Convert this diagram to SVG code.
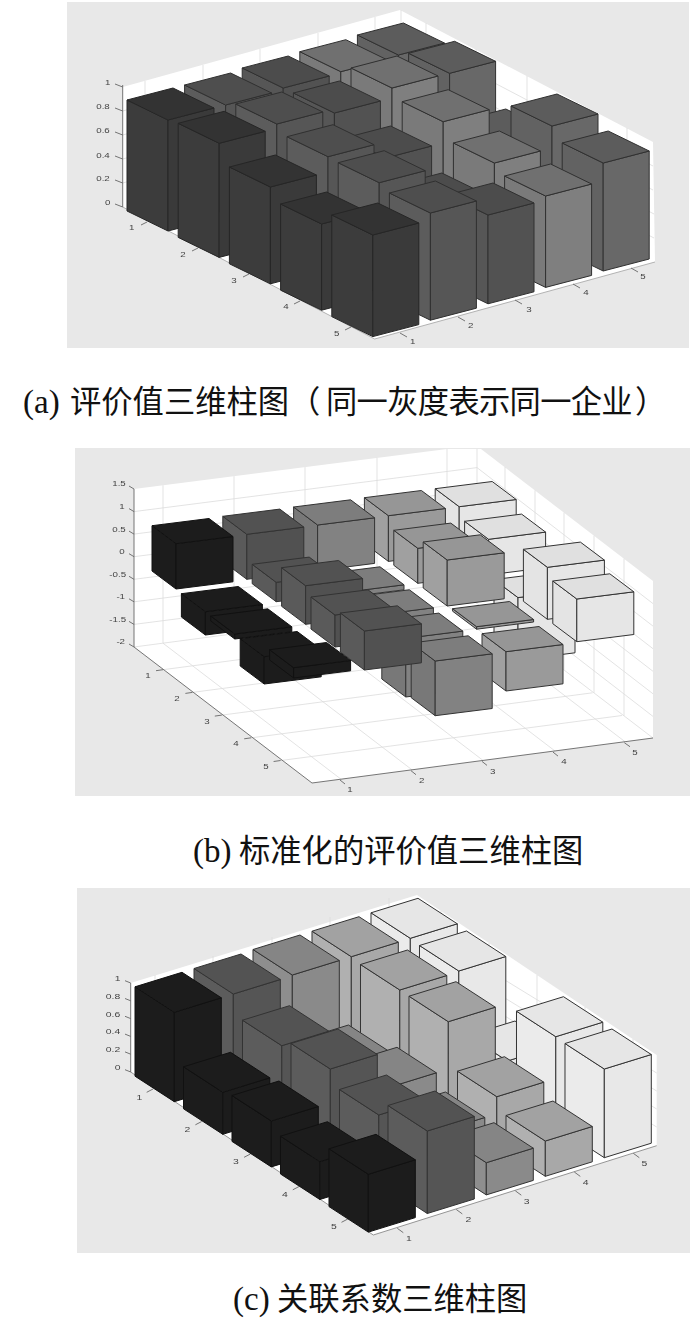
<svg xmlns="http://www.w3.org/2000/svg" width="700" height="1319" viewBox="0 0 700 1319">
<style>
.bg{fill:#e8e8e8}
.wall{fill:#fff}
.grid{fill:none;stroke:#dcdcdc;stroke-width:.8}
.ax{fill:none;stroke:#666;stroke-width:.9}
.lab{font-family:"Liberation Sans",Arial,sans-serif;font-size:6.5px;text-anchor:middle;fill:#444}
.cap{font-family:"Liberation Serif","Noto Sans CJK SC",serif;font-size:33px;fill:#111}
.zh{font-family:"Noto Sans CJK SC","Liberation Serif",sans-serif;font-size:31.3px}
.bar path{stroke-width:1;stroke-linejoin:round}
.pa .bar path{stroke:#303030}
.pb .bar path,.pc .bar path{stroke:#333}
.a1 path{stroke:#262626!important}
.a1 .t{fill:#333}.a1 .l{fill:#3c3c3c}.a1 .r{fill:#3a3a3a}
.a2 .t{fill:#4e4e4e}.a2 .l{fill:#5c5c5c}.a2 .r{fill:#565656}
.a3 .t{fill:#4c4c4c}.a3 .l{fill:#565656}.a3 .r{fill:#525252}
.a4 .t{fill:#707070}.a4 .l{fill:#7a7a7a}.a4 .r{fill:#7f7f7f}
.a5 .t{fill:#5c5c5c}.a5 .l{fill:#626262}.a5 .r{fill:#686868}
.b1 path{stroke:#111!important}
.b1 .t,.b1 .l,.b1 .r{fill:#1c1c1c}
.b2 .t{fill:#525252}.b2 .l{fill:#5a5a5a}.b2 .r{fill:#515151}
.b3 .t{fill:#7d7d7d}.b3 .l{fill:#787878}.b3 .r{fill:#828282}
.b4 .t{fill:#969696}.b4 .l{fill:#a0a0a0}.b4 .r{fill:#9a9a9a}
.b5 .t{fill:#e0e0e0}.b5 .l{fill:#e4e4e4}.b5 .r{fill:#e6e6e6}
.c1 path{stroke:#111!important}
.c1 .t,.c1 .l,.c1 .r{fill:#1c1c1c}
.c2 .t{fill:#535353}.c2 .l{fill:#5c5c5c}.c2 .r{fill:#555}
.c3 .t{fill:#858585}.c3 .l{fill:#8e8e8e}.c3 .r{fill:#8a8a8a}
.c4 .t{fill:#a2a2a2}.c4 .l{fill:#b0b0b0}.c4 .r{fill:#a8a8a8}
.c5 .t{fill:#e6e6e6}.c5 .l{fill:#ebebeb}.c5 .r{fill:#e8e8e8}
</style>
<defs>
<filter id="softA" x="-2%" y="-2%" width="104%" height="104%" color-interpolation-filters="sRGB"><feGaussianBlur stdDeviation=".6"/></filter>
<filter id="softB" x="-2%" y="-2%" width="104%" height="104%" color-interpolation-filters="sRGB"><feGaussianBlur stdDeviation=".3"/></filter>
</defs>

<g id="panel-a" class="pa" filter="url(#softA)">
<rect class="bg" x="67" y="2" width="622" height="346"/>
<path class="wall" d="M122.7 87L400 10 653 142 655 262 374.7 339 122.7 207z"/>
<path class="grid" d="M145 81V201M203 65V185M260 49V169M318 33V153M375 17V137M401 10V130M426 23V143M476 49V169M527 76V196M577 102V222M627 128V248M401 34L653 166M401 58L653 190M401 82L654 214M401 106L654 238M122.7 111L401 34M122.7 135L401 58M122.7 159L401 82M122.7 183L401 106"/>
<path class="ax" style="stroke:#aaa" d="M122.7 207L374.7 339 655 262"/>
<path class="ax" d="M122.7 85V207M122.7 87L115 84M122.7 111L115 108M122.7 135L115 132M122.7 159L115 156M122.7 183L115 180M122.7 207L115 204M147 222L141 225M198 248L192 251M249 274L243 277M300 301L294 304M351 327L345 330M400 333L407 337M458 317L465 321M515 300L522 304M573 284L580 288M631 268L638 272"/>
<g id="labels-a">
<text class="lab" transform="translate(107.7 85.2) scale(1.5 1)">1</text>
<text class="lab" transform="translate(103 109.2) scale(1.5 1)">0.8</text>
<text class="lab" transform="translate(103 133.2) scale(1.5 1)">0.6</text>
<text class="lab" transform="translate(103 158.2) scale(1.5 1)">0.4</text>
<text class="lab" transform="translate(103 181.2) scale(1.5 1)">0.2</text>
<text class="lab" transform="translate(107.7 205.2) scale(1.5 1)">0</text>
<text class="lab" transform="translate(131.7 230.2) scale(1.5 1)">1</text>
<text class="lab" transform="translate(183 257.2) scale(1.5 1)">2</text>
<text class="lab" transform="translate(234 283.2) scale(1.5 1)">3</text>
<text class="lab" transform="translate(286 309.2) scale(1.5 1)">4</text>
<text class="lab" transform="translate(336.7 336.2) scale(1.5 1)">5</text>
<text class="lab" transform="translate(412.7 344.2) scale(1.5 1)">1</text>
<text class="lab" transform="translate(470.7 328.2) scale(1.5 1)">2</text>
<text class="lab" transform="translate(529 312.2) scale(1.5 1)">3</text>
<text class="lab" transform="translate(586 295.2) scale(1.5 1)">4</text>
<text class="lab" transform="translate(643 279.2) scale(1.5 1)">5</text>
</g>
<g id="bars-a">
<g id="a-1-5" class="bar a5" transform="translate(398.4 55)"><path class="l" d="M0 0l-41-20v110.4l41 20z"/><path class="r" d="M0 0l46-12v110.4l-46 12z"/><path class="t" d="M0 0l-41-20 46-12 41 20z"/></g>
<g id="a-1-4" class="bar a4" transform="translate(340.8 71.7)"><path class="l" d="M0 0l-41-20v110.1l41 20z"/><path class="r" d="M0 0l46-12v110.1l-46 12z"/><path class="t" d="M0 0l-41-20 46-12 41 20z"/></g>
<g id="a-1-3" class="bar a3" transform="translate(283.2 88)"><path class="l" d="M0 0l-41-20v110.2l41 20z"/><path class="r" d="M0 0l46-12v110.2l-46 12z"/><path class="t" d="M0 0l-41-20 46-12 41 20z"/></g>
<g id="a-1-2" class="bar a2" transform="translate(225.6 105)"><path class="l" d="M0 0l-41-20v109.6l41 20z"/><path class="r" d="M0 0l46-12v109.6l-46 12z"/><path class="t" d="M0 0l-41-20 46-12 41 20z"/></g>
<g id="a-1-1" class="bar a1" transform="translate(168 120)"><path class="l" d="M0 0l-41-20v111l41 20z"/><path class="r" d="M0 0l46-12v111l-46 12z"/><path class="t" d="M0 0l-41-20 46-12 41 20z"/></g>
<g id="a-2-5" class="bar a5" transform="translate(449.6 73.3)"><path class="l" d="M0 0l-41-20v118.5l41 20z"/><path class="r" d="M0 0l46-12v118.5l-46 12z"/><path class="t" d="M0 0l-41-20 46-12 41 20z"/></g>
<g id="a-2-4" class="bar a4" transform="translate(392 88)"><path class="l" d="M0 0l-41-20v120.2l41 20z"/><path class="r" d="M0 0l46-12v120.2l-46 12z"/><path class="t" d="M0 0l-41-20 46-12 41 20z"/></g>
<g id="a-2-3" class="bar a3" transform="translate(334.4 113)"><path class="l" d="M0 0l-41-20v111.6l41 20z"/><path class="r" d="M0 0l46-12v111.6l-46 12z"/><path class="t" d="M0 0l-41-20 46-12 41 20z"/></g>
<g id="a-2-2" class="bar a2" transform="translate(276.8 124)"><path class="l" d="M0 0l-41-20v117l41 20z"/><path class="r" d="M0 0l46-12v117l-46 12z"/><path class="t" d="M0 0l-41-20 46-12 41 20z"/></g>
<g id="a-2-1" class="bar a1" transform="translate(219.2 143.3)"><path class="l" d="M0 0l-41-20v114.1l41 20z"/><path class="r" d="M0 0l46-12v114.1l-46 12z"/><path class="t" d="M0 0l-41-20 46-12 41 20z"/></g>
<g id="a-3-5" class="bar a5" transform="translate(500.8 141)"><path class="l" d="M0 0l-41-20v77.2l41 20z"/><path class="r" d="M0 0l46-12v77.2l-46 12z"/><path class="t" d="M0 0l-41-20 46-12 41 20z"/></g>
<g id="a-3-4" class="bar a4" transform="translate(443.2 121.7)"><path class="l" d="M0 0l-41-20v112.9l41 20z"/><path class="r" d="M0 0l46-12v112.9l-46 12z"/><path class="t" d="M0 0l-41-20 46-12 41 20z"/></g>
<g id="a-3-3" class="bar a3" transform="translate(385.6 158)"><path class="l" d="M0 0l-41-20v93l41 20z"/><path class="r" d="M0 0l46-12v93l-46 12z"/><path class="t" d="M0 0l-41-20 46-12 41 20z"/></g>
<g id="a-3-2" class="bar a2" transform="translate(328 156.7)"><path class="l" d="M0 0l-41-20v110.7l41 20z"/><path class="r" d="M0 0l46-12v110.7l-46 12z"/><path class="t" d="M0 0l-41-20 46-12 41 20z"/></g>
<g id="a-3-1" class="bar a1" transform="translate(270.4 187)"><path class="l" d="M0 0l-41-20v96.8l41 20z"/><path class="r" d="M0 0l46-12v96.8l-46 12z"/><path class="t" d="M0 0l-41-20 46-12 41 20z"/></g>
<g id="a-4-5" class="bar a5" transform="translate(552 126)"><path class="l" d="M0 0l-41-20v118.6l41 20z"/><path class="r" d="M0 0l46-12v118.6l-46 12z"/><path class="t" d="M0 0l-41-20 46-12 41 20z"/></g>
<g id="a-4-4" class="bar a4" transform="translate(494.4 163)"><path class="l" d="M0 0l-41-20v98l41 20z"/><path class="r" d="M0 0l46-12v98l-46 12z"/><path class="t" d="M0 0l-41-20 46-12 41 20z"/></g>
<g id="a-4-3" class="bar a3" transform="translate(436.8 205)"><path class="l" d="M0 0l-41-20v72.4l41 20z"/><path class="r" d="M0 0l46-12v72.4l-46 12z"/><path class="t" d="M0 0l-41-20 46-12 41 20z"/></g>
<g id="a-4-2" class="bar a2" transform="translate(379.2 182.7)"><path class="l" d="M0 0l-41-20v111.1l41 20z"/><path class="r" d="M0 0l46-12v111.1l-46 12z"/><path class="t" d="M0 0l-41-20 46-12 41 20z"/></g>
<g id="a-4-1" class="bar a1" transform="translate(321.6 224)"><path class="l" d="M0 0l-41-20v86.2l41 20z"/><path class="r" d="M0 0l46-12v86.2l-46 12z"/><path class="t" d="M0 0l-41-20 46-12 41 20z"/></g>
<g id="a-5-5" class="bar a5" transform="translate(603.2 163)"><path class="l" d="M0 0l-41-20v108l41 20z"/><path class="r" d="M0 0l46-12v108l-46 12z"/><path class="t" d="M0 0l-41-20 46-12 41 20z"/></g>
<g id="a-5-4" class="bar a4" transform="translate(545.6 196)"><path class="l" d="M0 0l-41-20v91.4l41 20z"/><path class="r" d="M0 0l46-12v91.4l-46 12z"/><path class="t" d="M0 0l-41-20 46-12 41 20z"/></g>
<g id="a-5-3" class="bar a3" transform="translate(488 215)"><path class="l" d="M0 0l-41-20v88.8l41 20z"/><path class="r" d="M0 0l46-12v88.8l-46 12z"/><path class="t" d="M0 0l-41-20 46-12 41 20z"/></g>
<g id="a-5-2" class="bar a2" transform="translate(430.4 213)"><path class="l" d="M0 0l-41-20v107.2l41 20z"/><path class="r" d="M0 0l46-12v107.2l-46 12z"/><path class="t" d="M0 0l-41-20 46-12 41 20z"/></g>
<g id="a-5-1" class="bar a1" transform="translate(372.8 235)"><path class="l" d="M0 0l-41-20v101.6l41 20z"/><path class="r" d="M0 0l46-12v101.6l-46 12z"/><path class="t" d="M0 0l-41-20 46-12 41 20z"/></g>
</g>
</g>

<text id="caption-a" class="cap" y="413"><tspan x="23">(a)</tspan><tspan class="zh" x="70">评价值三维柱图</tspan><tspan class="zh" x="289">（</tspan><tspan class="zh" x="326" letter-spacing="-.7">同一灰度表示同一企业</tspan><tspan class="zh" x="635">）</tspan></text>

<g id="panel-b" class="pb" filter="url(#softB)">
<rect class="bg" x="75" y="448" width="615" height="348"/>
<path class="wall" d="M134 489L447 449H481L653 581V738L312 783 134 647z"/>
<path class="grid" d="M163 485.3V643M234 476.2V634M305 467.1V625M377 457.9V615.6M447 449V606M477 449V602M505 467V624.7M535 490.4V647.7M564 512.7V669.7M594 535.7V692.7M624 558.7V715.7M134 511.6L477 467.6 653 603.6M134 534.1L477 490.1 653 626.1M134 556.7L477 512.7 653 648.7M134 579.3L477 535.3 653 671.3M134 601.8L477 557.8 653 693.8M134 624.4L477 580.4 653 716.4M134 647L475 602 653 738M163 669.7L504 624.7M192.5 692.4L533.5 647.4M222 715.1L563 670.1M251.5 737.8L592.5 692.8M281 760.5L622 715.5M163 643.2L341 779.2M234 633.8L412 769.8M305 624.4L483 760.4M377 615L555 751M447 605.7L625 741.7"/>
<path class="ax" d="M134 489V647L312 783 653 738M134 489L129 486M134 511.6L129 508.6M134 534.1L129 531.1M134 556.7L129 553.7M134 579.3L129 576.3M134 601.8L129 598.8M134 624.4L129 621.4M134 647L129 644M163 669.7L156 670.7M192.4 692.4L185.4 693.4M221.8 715.1L214.8 716.1M251.2 737.8L244.2 738.8M280.6 760.5L273.6 761.5M340 780L345 784M411 770.7L416 774.7M482 761.4L487 765.4M553 752.1L558 756.1M624.3 742.7L630 746.7"/>
<g id="labels-b">
<text class="lab" transform="translate(119 486.2) scale(1.5 1)">1.5</text>
<text class="lab" transform="translate(122 509.2) scale(1.5 1)">1</text>
<text class="lab" transform="translate(119 532.2) scale(1.5 1)">0.5</text>
<text class="lab" transform="translate(122 554.2) scale(1.5 1)">0</text>
<text class="lab" transform="translate(117.7 577.2) scale(1.5 1)">-0.5</text>
<text class="lab" transform="translate(120.7 599.2) scale(1.5 1)">-1</text>
<text class="lab" transform="translate(117.7 622.2) scale(1.5 1)">-1.5</text>
<text class="lab" transform="translate(120.7 644.2) scale(1.5 1)">-2</text>
<text class="lab" transform="translate(148 678.2) scale(1.5 1)">1</text>
<text class="lab" transform="translate(177 701.2) scale(1.5 1)">2</text>
<text class="lab" transform="translate(207 724.2) scale(1.5 1)">3</text>
<text class="lab" transform="translate(236 746.2) scale(1.5 1)">4</text>
<text class="lab" transform="translate(266 769.2) scale(1.5 1)">5</text>
<text class="lab" transform="translate(350 792.2) scale(1.5 1)">1</text>
<text class="lab" transform="translate(421.7 783.2) scale(1.5 1)">2</text>
<text class="lab" transform="translate(492.7 773.9) scale(1.5 1)">3</text>
<text class="lab" transform="translate(564 764.2) scale(1.5 1)">4</text>
<text class="lab" transform="translate(635 754.9) scale(1.5 1)">5</text>
</g>
<g id="bars-b">
<g id="b-1-5" class="bar b5" transform="translate(459.2 506.7)"><path class="l" d="M0 0l-24-18v45.5l24 18z"/><path class="r" d="M0 0l57-7.2v45.5l-57 7.2z"/><path class="t" d="M0 0l-24-18 57-7.2 24 18z"/></g>
<g id="b-1-4" class="bar b4" transform="translate(388.4 515.7)"><path class="l" d="M0 0l-24-18v45.7l24 18z"/><path class="r" d="M0 0l57-7.2v45.7l-57 7.2z"/><path class="t" d="M0 0l-24-18 57-7.2 24 18z"/></g>
<g id="b-1-3" class="bar b3" transform="translate(317.6 525)"><path class="l" d="M0 0l-24-18v45.6l24 18z"/><path class="r" d="M0 0l57-7.2v45.6l-57 7.2z"/><path class="t" d="M0 0l-24-18 57-7.2 24 18z"/></g>
<g id="b-1-2" class="bar b2" transform="translate(246.8 534.3)"><path class="l" d="M0 0l-24-18v45l24 18z"/><path class="r" d="M0 0l57-7.2v45l-57 7.2z"/><path class="t" d="M0 0l-24-18 57-7.2 24 18z"/></g>
<g id="b-1-1" class="bar b1" transform="translate(176 543.7)"><path class="l" d="M0 0l-24-18v45.3l24 18z"/><path class="r" d="M0 0l57-7.2v45.3l-57 7.2z"/><path class="t" d="M0 0l-24-18 57-7.2 24 18z"/></g>
<g id="b-2-5" class="bar b5" transform="translate(488.6 539.3)"><path class="l" d="M0 0l-24-18v35.6l24 18z"/><path class="r" d="M0 0l57-7.2v35.6l-57 7.2z"/><path class="t" d="M0 0l-24-18 57-7.2 24 18z"/></g>
<g id="b-2-4" class="bar b4" transform="translate(417.8 548.3)"><path class="l" d="M0 0l-24-18v35l24 18z"/><path class="r" d="M0 0l57-7.2v35l-57 7.2z"/><path class="t" d="M0 0l-24-18 57-7.2 24 18z"/></g>
<g id="b-2-3" class="bar b3" transform="translate(347 592)"><path class="l" d="M0 0l-24-18v5l24 18z"/><path class="r" d="M0 0l57-7.2v5l-57 7.2z"/><path class="t" d="M0 0l-24-18 57-7.2 24 18z"/></g>
<g id="b-2-2" class="bar b2" transform="translate(276.2 582.3)"><path class="l" d="M0 0l-24-18v19.4l24 18z"/><path class="r" d="M0 0l57-7.2v19.4l-57 7.2z"/><path class="t" d="M0 0l-24-18 57-7.2 24 18z"/></g>
<g id="b-2-1" class="bar b1" transform="translate(205.4 611.7)"><path class="l" d="M0 0l-24-18v23.3l24 18z"/><path class="r" d="M0 0l57-7.2v23.3l-57 7.2z"/><path class="t" d="M0 0l-24-18 57-7.2 24 18z"/></g>
<g id="b-3-5" class="bar b5" transform="translate(518 597.6)"><path class="l" d="M0 0l-24-18v62.4l24 18z"/><path class="r" d="M0 0l57-7.2v62.4l-57 7.2z"/><path class="t" d="M0 0l-24-18 57-7.2 24 18z"/></g>
<g id="b-3-4" class="bar b4" transform="translate(447.2 560)"><path class="l" d="M0 0l-24-18v46l24 18z"/><path class="r" d="M0 0l57-7.2v46l-57 7.2z"/><path class="t" d="M0 0l-24-18 57-7.2 24 18z"/></g>
<g id="b-3-3" class="bar b3" transform="translate(376.4 615)"><path class="l" d="M0 0l-24-18v8l24 18z"/><path class="r" d="M0 0l57-7.2v8l-57 7.2z"/><path class="t" d="M0 0l-24-18 57-7.2 24 18z"/></g>
<g id="b-3-2" class="bar b2" transform="translate(305.6 585.7)"><path class="l" d="M0 0l-24-18v38.6l24 18z"/><path class="r" d="M0 0l57-7.2v38.6l-57 7.2z"/><path class="t" d="M0 0l-24-18 57-7.2 24 18z"/></g>
<g id="b-3-1" class="bar b1" transform="translate(234.8 634)"><path class="l" d="M0 0l-24-18v5l24 18z"/><path class="r" d="M0 0l57-7.2v5l-57 7.2z"/><path class="t" d="M0 0l-24-18 57-7.2 24 18z"/></g>
<g id="b-4-5" class="bar b5" transform="translate(547.4 567.3)"><path class="l" d="M0 0l-24-18v52l24 18z"/><path class="r" d="M0 0l57-7.2v52l-57 7.2z"/><path class="t" d="M0 0l-24-18 57-7.2 24 18z"/></g>
<g id="b-4-4" class="bar b4" transform="translate(476.6 626.7)"><path class="l" d="M0 0l-24-18v2.5l24 18z"/><path class="r" d="M0 0l57-7.2v2.5l-57 7.2z"/><path class="t" d="M0 0l-24-18 57-7.2 24 18z"/></g>
<g id="b-4-3" class="bar b3" transform="translate(405.8 638.3)"><path class="l" d="M0 0l-24-18v58.7l24 18z"/><path class="r" d="M0 0l57-7.2v58.7l-57 7.2z"/><path class="t" d="M0 0l-24-18 57-7.2 24 18z"/></g>
<g id="b-4-2" class="bar b2" transform="translate(335 615)"><path class="l" d="M0 0l-24-18v32l24 18z"/><path class="r" d="M0 0l57-7.2v32l-57 7.2z"/><path class="t" d="M0 0l-24-18 57-7.2 24 18z"/></g>
<g id="b-4-1" class="bar b1" transform="translate(264.2 656.7)"><path class="l" d="M0 0l-24-18v27.3l24 18z"/><path class="r" d="M0 0l57-7.2v27.3l-57 7.2z"/><path class="t" d="M0 0l-24-18 57-7.2 24 18z"/></g>
<g id="b-5-5" class="bar b5" transform="translate(576.8 599)"><path class="l" d="M0 0l-24-18v42.7l24 18z"/><path class="r" d="M0 0l57-7.2v42.7l-57 7.2z"/><path class="t" d="M0 0l-24-18 57-7.2 24 18z"/></g>
<g id="b-5-4" class="bar b4" transform="translate(506 651.7)"><path class="l" d="M0 0l-24-18v39.3l24 18z"/><path class="r" d="M0 0l57-7.2v39.3l-57 7.2z"/><path class="t" d="M0 0l-24-18 57-7.2 24 18z"/></g>
<g id="b-5-3" class="bar b3" transform="translate(435.2 661)"><path class="l" d="M0 0l-24-18v54.7l24 18z"/><path class="r" d="M0 0l57-7.2v54.7l-57 7.2z"/><path class="t" d="M0 0l-24-18 57-7.2 24 18z"/></g>
<g id="b-5-2" class="bar b2" transform="translate(364.4 631)"><path class="l" d="M0 0l-24-18v39l24 18z"/><path class="r" d="M0 0l57-7.2v39l-57 7.2z"/><path class="t" d="M0 0l-24-18 57-7.2 24 18z"/></g>
<g id="b-5-1" class="bar b1" transform="translate(293.6 667.7)"><path class="l" d="M0 0l-24-18v10.3l24 18z"/><path class="r" d="M0 0l57-7.2v10.3l-57 7.2z"/><path class="t" d="M0 0l-24-18 57-7.2 24 18z"/></g>
</g>
</g>

<text id="caption-b" class="cap" y="862"><tspan x="193">(b)</tspan><tspan class="zh" x="239">标准化的评价值三维柱图</tspan></text>

<g id="panel-c" class="pc" filter="url(#softB)">
<rect class="bg" x="77" y="888" width="613" height="365"/>
<path class="wall" d="M130.7 983L417 895 656.7 1055V1145.7L373.3 1235 130.7 1072z"/>
<path class="grid" d="M155 975V1064M213 956V1045M272 937V1026M330 917V1006M389 898V987M441 911V1001M489 943V1033M537 975V1065M585 1007V1097M633 1039V1129M415 925L656.7 1073M415 943L656.7 1091M415 961L656.7 1109M415 979L656.7 1127"/>
<path class="ax" style="stroke:#8a8a8a" d="M130.7 1072L373.3 1235 656.7 1145.7"/>
<path class="ax" d="M130.7 983V1072M130.7 983L125 980.7M130.7 1000.8L125 998.5M130.7 1018.6L125 1016.3M130.7 1036.4L125 1034.1M130.7 1054.2L125 1051.9M130.7 1072L125 1069.7M153 1089L146.7 1092.3M201.7 1121.5L195.4 1124.8M250.4 1154L244.1 1157.3M299.1 1186.5L292.8 1189.8M347.8 1219L341.5 1222.3M397.3 1228.3L403.3 1232.7M456.3 1209.5L462.3 1213.9M515.3 1190.8L521.3 1195.2M574.3 1172L580.3 1176.4M633.3 1153.3L639.3 1157.7"/>
<g id="labels-c">
<text class="lab" transform="translate(117.7 981.2) scale(1.6 1.1)">1</text>
<text class="lab" transform="translate(113 999.2) scale(1.6 1.1)">0.8</text>
<text class="lab" transform="translate(113 1016.5) scale(1.6 1.1)">0.6</text>
<text class="lab" transform="translate(113 1034.2) scale(1.6 1.1)">0.4</text>
<text class="lab" transform="translate(113 1052.2) scale(1.6 1.1)">0.2</text>
<text class="lab" transform="translate(117.7 1069.9) scale(1.6 1.1)">0</text>
<text class="lab" transform="translate(139.3 1099.9) scale(1.6 1.1)">1</text>
<text class="lab" transform="translate(187.3 1132.2) scale(1.6 1.1)">2</text>
<text class="lab" transform="translate(236 1164.2) scale(1.6 1.1)">3</text>
<text class="lab" transform="translate(285 1197.2) scale(1.6 1.1)">4</text>
<text class="lab" transform="translate(334 1229.2) scale(1.6 1.1)">5</text>
<text class="lab" transform="translate(409 1241.2) scale(1.6 1.1)">1</text>
<text class="lab" transform="translate(468.3 1222.2) scale(1.6 1.1)">2</text>
<text class="lab" transform="translate(526.7 1203.9) scale(1.6 1.1)">3</text>
<text class="lab" transform="translate(585.7 1184.9) scale(1.6 1.1)">4</text>
<text class="lab" transform="translate(644.3 1166.2) scale(1.6 1.1)">5</text>
</g>
<g id="bars-c">
<g id="c-1-5" class="bar c5" transform="translate(410.3 938.3)"><path class="l" d="M0 0l-39.3-25.5v89l39.3 25.5z"/><path class="r" d="M0 0l47-14.5v89l-47 14.5z"/><path class="t" d="M0 0l-39.3-25.5 47-14.5 39.3 25.5z"/></g>
<g id="c-1-4" class="bar c4" transform="translate(351.3 956.7)"><path class="l" d="M0 0l-39.3-25.5v89.2l39.3 25.5z"/><path class="r" d="M0 0l47-14.5v89.2l-47 14.5z"/><path class="t" d="M0 0l-39.3-25.5 47-14.5 39.3 25.5z"/></g>
<g id="c-1-3" class="bar c3" transform="translate(292.3 975)"><path class="l" d="M0 0l-39.3-25.5v89.5l39.3 25.5z"/><path class="r" d="M0 0l47-14.5v89.5l-47 14.5z"/><path class="t" d="M0 0l-39.3-25.5 47-14.5 39.3 25.5z"/></g>
<g id="c-1-2" class="bar c2" transform="translate(233.3 994)"><path class="l" d="M0 0l-39.3-25.5v89.1l39.3 25.5z"/><path class="r" d="M0 0l47-14.5v89.1l-47 14.5z"/><path class="t" d="M0 0l-39.3-25.5 47-14.5 39.3 25.5z"/></g>
<g id="c-1-1" class="bar c1" transform="translate(174.3 1012.3)"><path class="l" d="M0 0l-39.3-25.5v89.4l39.3 25.5z"/><path class="r" d="M0 0l47-14.5v89.4l-47 14.5z"/><path class="t" d="M0 0l-39.3-25.5 47-14.5 39.3 25.5z"/></g>
<g id="c-2-5" class="bar c5" transform="translate(458.8 971)"><path class="l" d="M0 0l-39.3-25.5v88.9l39.3 25.5z"/><path class="r" d="M0 0l47-14.5v88.9l-47 14.5z"/><path class="t" d="M0 0l-39.3-25.5 47-14.5 39.3 25.5z"/></g>
<g id="c-2-4" class="bar c4" transform="translate(399.8 990)"><path class="l" d="M0 0l-39.3-25.5v88.5l39.3 25.5z"/><path class="r" d="M0 0l47-14.5v88.5l-47 14.5z"/><path class="t" d="M0 0l-39.3-25.5 47-14.5 39.3 25.5z"/></g>
<g id="c-2-3" class="bar c3" transform="translate(340.8 1065)"><path class="l" d="M0 0l-39.3-25.5v32.1l39.3 25.5z"/><path class="r" d="M0 0l47-14.5v32.1l-47 14.5z"/><path class="t" d="M0 0l-39.3-25.5 47-14.5 39.3 25.5z"/></g>
<g id="c-2-2" class="bar c2" transform="translate(281.8 1045.7)"><path class="l" d="M0 0l-39.3-25.5v70l39.3 25.5z"/><path class="r" d="M0 0l47-14.5v70l-47 14.5z"/><path class="t" d="M0 0l-39.3-25.5 47-14.5 39.3 25.5z"/></g>
<g id="c-2-1" class="bar c1" transform="translate(222.8 1092.3)"><path class="l" d="M0 0l-39.3-25.5v42l39.3 25.5z"/><path class="r" d="M0 0l47-14.5v42l-47 14.5z"/><path class="t" d="M0 0l-39.3-25.5 47-14.5 39.3 25.5z"/></g>
<g id="c-3-5" class="bar c5" transform="translate(507.3 1061)"><path class="l" d="M0 0l-39.3-25.5v31.5l39.3 25.5z"/><path class="r" d="M0 0l47-14.5v31.5l-47 14.5z"/><path class="t" d="M0 0l-39.3-25.5 47-14.5 39.3 25.5z"/></g>
<g id="c-3-4" class="bar c4" transform="translate(448.3 1021.7)"><path class="l" d="M0 0l-39.3-25.5v89.4l39.3 25.5z"/><path class="r" d="M0 0l47-14.5v89.4l-47 14.5z"/><path class="t" d="M0 0l-39.3-25.5 47-14.5 39.3 25.5z"/></g>
<g id="c-3-3" class="bar c3" transform="translate(389.3 1087.3)"><path class="l" d="M0 0l-39.3-25.5v42.4l39.3 25.5z"/><path class="r" d="M0 0l47-14.5v42.4l-47 14.5z"/><path class="t" d="M0 0l-39.3-25.5 47-14.5 39.3 25.5z"/></g>
<g id="c-3-2" class="bar c2" transform="translate(330.3 1069)"><path class="l" d="M0 0l-39.3-25.5v79.3l39.3 25.5z"/><path class="r" d="M0 0l47-14.5v79.3l-47 14.5z"/><path class="t" d="M0 0l-39.3-25.5 47-14.5 39.3 25.5z"/></g>
<g id="c-3-1" class="bar c1" transform="translate(271.3 1121)"><path class="l" d="M0 0l-39.3-25.5v45.9l39.3 25.5z"/><path class="r" d="M0 0l47-14.5v45.9l-47 14.5z"/><path class="t" d="M0 0l-39.3-25.5 47-14.5 39.3 25.5z"/></g>
<g id="c-4-5" class="bar c5" transform="translate(555.8 1036.7)"><path class="l" d="M0 0l-39.3-25.5v88.4l39.3 25.5z"/><path class="r" d="M0 0l47-14.5v88.4l-47 14.5z"/><path class="t" d="M0 0l-39.3-25.5 47-14.5 39.3 25.5z"/></g>
<g id="c-4-4" class="bar c4" transform="translate(496.8 1096.7)"><path class="l" d="M0 0l-39.3-25.5v47l39.3 25.5z"/><path class="r" d="M0 0l47-14.5v47l-47 14.5z"/><path class="t" d="M0 0l-39.3-25.5 47-14.5 39.3 25.5z"/></g>
<g id="c-4-3" class="bar c3" transform="translate(437.8 1132)"><path class="l" d="M0 0l-39.3-25.5v30.3l39.3 25.5z"/><path class="r" d="M0 0l47-14.5v30.3l-47 14.5z"/><path class="t" d="M0 0l-39.3-25.5 47-14.5 39.3 25.5z"/></g>
<g id="c-4-2" class="bar c2" transform="translate(378.8 1115)"><path class="l" d="M0 0l-39.3-25.5v65.9l39.3 25.5z"/><path class="r" d="M0 0l47-14.5v65.9l-47 14.5z"/><path class="t" d="M0 0l-39.3-25.5 47-14.5 39.3 25.5z"/></g>
<g id="c-4-1" class="bar c1" transform="translate(319.8 1161.7)"><path class="l" d="M0 0l-39.3-25.5v37.8l39.3 25.5z"/><path class="r" d="M0 0l47-14.5v37.8l-47 14.5z"/><path class="t" d="M0 0l-39.3-25.5 47-14.5 39.3 25.5z"/></g>
<g id="c-5-5" class="bar c5" transform="translate(604.3 1069)"><path class="l" d="M0 0l-39.3-25.5v88.7l39.3 25.5z"/><path class="r" d="M0 0l47-14.5v88.7l-47 14.5z"/><path class="t" d="M0 0l-39.3-25.5 47-14.5 39.3 25.5z"/></g>
<g id="c-5-4" class="bar c4" transform="translate(545.3 1141)"><path class="l" d="M0 0l-39.3-25.5v35.3l39.3 25.5z"/><path class="r" d="M0 0l47-14.5v35.3l-47 14.5z"/><path class="t" d="M0 0l-39.3-25.5 47-14.5 39.3 25.5z"/></g>
<g id="c-5-3" class="bar c3" transform="translate(486.3 1162.7)"><path class="l" d="M0 0l-39.3-25.5v32.2l39.3 25.5z"/><path class="r" d="M0 0l47-14.5v32.2l-47 14.5z"/><path class="t" d="M0 0l-39.3-25.5 47-14.5 39.3 25.5z"/></g>
<g id="c-5-2" class="bar c2" transform="translate(427.3 1131)"><path class="l" d="M0 0l-39.3-25.5v82.5l39.3 25.5z"/><path class="r" d="M0 0l47-14.5v82.5l-47 14.5z"/><path class="t" d="M0 0l-39.3-25.5 47-14.5 39.3 25.5z"/></g>
<g id="c-5-1" class="bar c1" transform="translate(368.3 1174.3)"><path class="l" d="M0 0l-39.3-25.5v57.8l39.3 25.5z"/><path class="r" d="M0 0l47-14.5v57.8l-47 14.5z"/><path class="t" d="M0 0l-39.3-25.5 47-14.5 39.3 25.5z"/></g>
</g>
</g>

<text id="caption-c" class="cap" y="1310"><tspan x="233">(c)</tspan><tspan class="zh" x="277">关联系数三维柱图</tspan></text>
</svg>
